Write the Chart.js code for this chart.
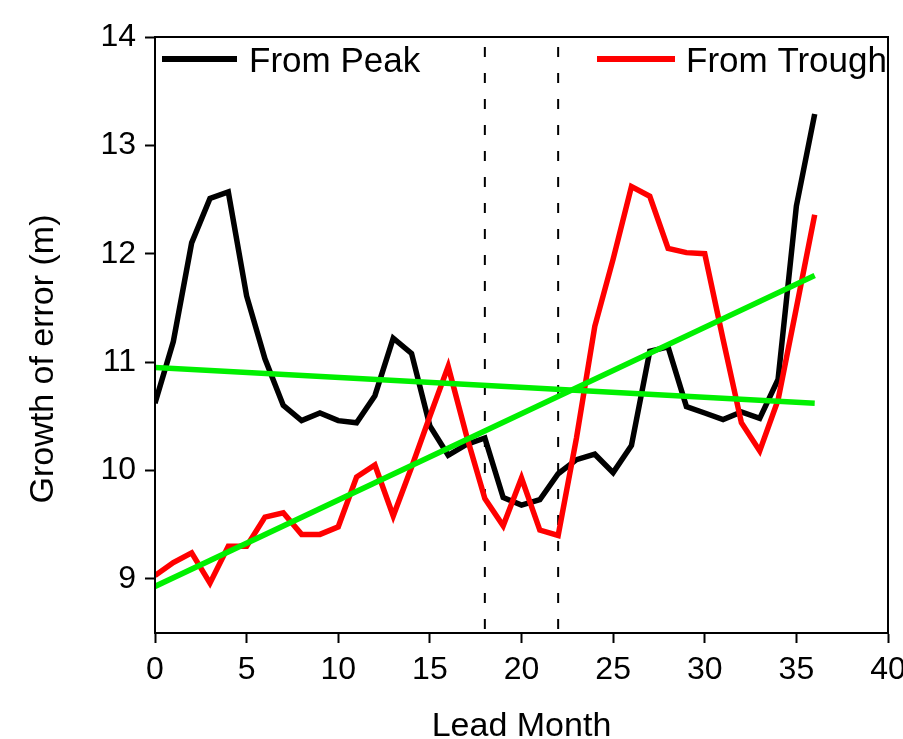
<!DOCTYPE html>
<html>
<head>
<meta charset="utf-8">
<script src="https://cdn.jsdelivr.net/npm/chart.js@4/dist/chart.umd.min.js"></script>
<style>
  html, body { margin: 0; padding: 0; background: #fff; }
  #wrap { width: 903px; height: 739px; position: relative; }
</style>
</head>
<body>
<div id="wrap"><canvas id="chart"></canvas></div>
<script>
// lead months 0..36
const months = [0,1,2,3,4,5,6,7,8,9,10,11,12,13,14,15,16,17,18,19,20,21,22,23,24,25,26,27,28,29,30,31,32,33,34,35,36];

const fromPeak = [10.62, 11.19, 12.10, 12.51, 12.57, 11.61, 11.03, 10.60, 10.46, 10.53,
  10.46, 10.44, 10.69, 11.22, 11.08, 10.41, 10.14, 10.24, 10.30, 9.75,
  9.68, 9.73, 9.97, 10.10, 10.15, 9.98, 10.23, 11.10, 11.14, 10.59,
  10.53, 10.47, 10.54, 10.48, 10.84, 12.44, 13.29];

const fromTrough = [9.03, 9.15, 9.24, 8.96, 9.30, 9.30, 9.57, 9.61, 9.41, 9.41,
  9.48, 9.94, 10.05, 9.58, 10.03, 10.50, 10.96, 10.32, 9.74, 9.49,
  9.93, 9.45, 9.40, 10.30, 11.33, 11.95, 12.62, 12.53, 12.05, 12.01,
  12.00, 11.21, 10.44, 10.18, 10.65, 11.50, 12.36];

// fitted trend lines (end points read at month 0 and 36)
const fitMonths = [0, 36];
const fitPeak = [10.95, 10.62];
const fitTrough = [8.93, 11.80];

// dashed markers
const markerMonths = [18, 22];
const yRange = [14, 8.5];

const xTicks = [0, 5, 10, 15, 20, 25, 30, 35, 40];
const yTicks = [9, 10, 11, 12, 13, 14];

const FONT = "'Liberation Sans', Arial, sans-serif";

const toPts = (xs, ys) => xs.map((x, i) => ({ x: x, y: ys[i] }));

const datasets = [
  { label: 'From Peak', data: toPts(months, fromPeak), borderColor: '#000000', order: 2, legend: true },
  { label: 'From Trough', data: toPts(months, fromTrough), borderColor: '#ff0000', order: 1, legend: true },
  { label: 'fit peak', data: toPts(fitMonths, fitPeak), borderColor: '#00f000', order: 0 },
  { label: 'fit trough', data: toPts(fitMonths, fitTrough), borderColor: '#00f000', order: 0 }
].map(d => Object.assign({ borderWidth: 5.5, pointRadius: 0, tension: 0, fill: false, borderJoinStyle: 'miter' }, d));

markerMonths.forEach(m => {
  datasets.push({
    label: 'marker ' + m,
    data: yRange.map(v => ({ x: m, y: v })),
    borderColor: '#000000',
    borderWidth: 2,
    borderDash: [10, 16],
    borderDashOffset: 16,
    pointRadius: 0,
    order: 3
  });
});

const frameAndText = {
  id: 'frameAndText',
  afterDraw(chart) {
    const ctx = chart.ctx;
    const a = chart.chartArea;
    ctx.save();
    ctx.strokeStyle = '#000';
    ctx.lineWidth = 2;
    ctx.strokeRect(a.left, a.top, a.right - a.left, a.bottom - a.top);

    // axis titles
    ctx.fillStyle = '#000';
    ctx.font = '34px ' + FONT;
    ctx.textAlign = 'center';
    ctx.textBaseline = 'alphabetic';
    ctx.fillText('Lead Month', (a.left + a.right) / 2, 736);
    ctx.save();
    ctx.translate(53, 359);
    ctx.rotate(-Math.PI / 2);
    ctx.fillText('Growth of error (m)', 0, 0);
    ctx.restore();

    // legend entries
    const spots = [
      { x0: 162, x1: 237, tx: 249 },
      { x0: 597, x1: 675, tx: 686 }
    ];
    ctx.font = '35px ' + FONT;
    chart.data.datasets.filter(d => d.legend).forEach((d, i) => {
      const s = spots[i];
      ctx.strokeStyle = d.borderColor;
      ctx.lineWidth = 6;
      ctx.beginPath();
      ctx.moveTo(s.x0, 59);
      ctx.lineTo(s.x1, 59);
      ctx.stroke();
      ctx.textAlign = 'left';
      ctx.fillText(d.label, s.tx, 72);
    });
    ctx.restore();
  }
};

new Chart(document.getElementById('chart'), {
  type: 'line',
  data: { datasets: datasets },
  plugins: [frameAndText],
  options: {
    responsive: true,
    maintainAspectRatio: false,
    animation: false,
    layout: { padding: { left: 0, top: 37, right: 15, bottom: 0 } },
    plugins: { legend: { display: false }, tooltip: { enabled: false } },
    scales: {
      x: {
        type: 'linear',
        min: 0,
        max: 40,
        afterBuildTicks: s => { s.ticks = xTicks.map(v => ({ value: v })); },
        afterFit: s => { s.height = 106; s.paddingLeft = 0; s.paddingRight = 0; },
        grid: { drawOnChartArea: false, tickLength: 10, tickWidth: 2, tickColor: '#000' },
        border: { display: true, color: '#000', width: 2 },
        ticks: { autoSkip: false, maxRotation: 0, padding: 8, color: '#000', font: { family: FONT, size: 32 } }
      },
      y: {
        type: 'linear',
        min: 8.5,
        max: 14,
        afterBuildTicks: s => { s.ticks = yTicks.map(v => ({ value: v })); },
        afterFit: s => { s.width = 155; },
        grid: { drawOnChartArea: false, tickLength: 10, tickWidth: 2, tickColor: '#000' },
        border: { display: true, color: '#000', width: 2 },
        ticks: { padding: 9, color: '#000', font: { family: FONT, size: 32 } }
      }
    }
  }
});
</script>
</body>
</html>
